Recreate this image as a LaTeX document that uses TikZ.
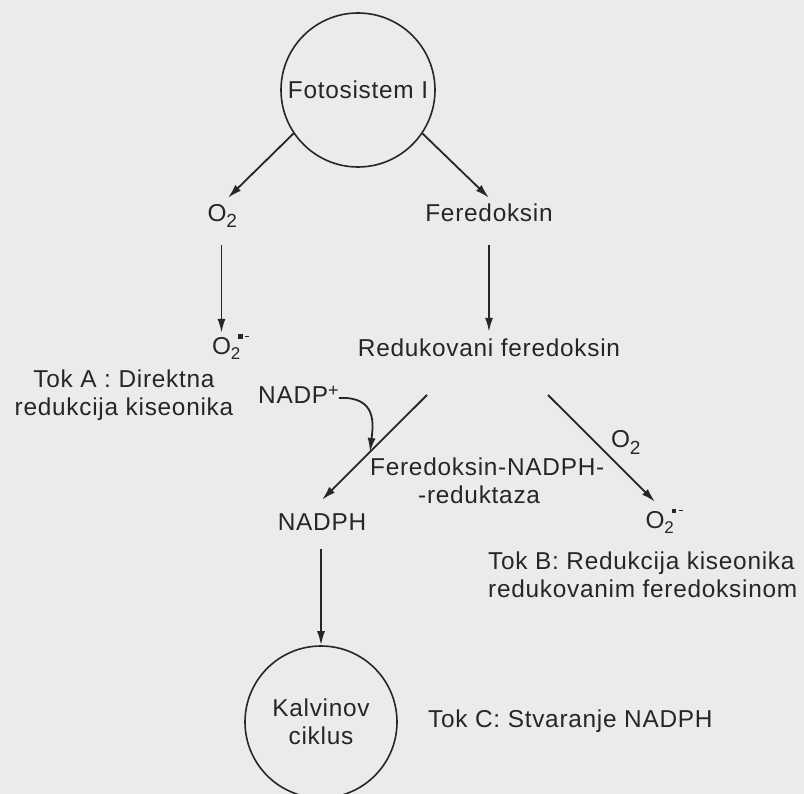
\documentclass[tikz,border=0pt]{standalone}
\usepackage{fontspec}
\setmainfont[LetterSpace=3]{Liberation Sans}
\usetikzlibrary{arrows.meta}
\definecolor{bg}{RGB}{233,236,234}
\definecolor{ink}{RGB}{38,38,38}
\newcommand\Otwo{O\rlap{\raisebox{-6pt}{\fontsize{19}{19}\selectfont 2}}}
\newcommand\Osup{O\rlap{\raisebox{-5pt}{\fontsize{17}{17}\selectfont 2}\hspace{-2pt}\rule[16pt]{4.5pt}{4.5pt}\hspace{2.5pt}\rule[17.5pt]{4pt}{1.6pt}}}
\begin{document}
\begin{tikzpicture}[x=1pt,y=-1pt,
  arr/.style={draw=ink, line width=1.8pt, -{Latex[length=14pt,width=8pt]}},
  txt/.style={text=ink, inner sep=0pt, font=\fontsize{24.4}{28}\selectfont},
  lbl/.style={txt, text height=17pt, text depth=5pt},
  circ/.style={circle, draw=ink, line width=1.6pt, inner sep=0pt, text=ink, align=center, font=\fontsize{24.4}{28}\selectfont}]
\fill[bg] (0,0) rectangle (804,794);
\useasboundingbox (0,0) rectangle (804,794);

% nodes
\node[circ, minimum size=154pt] (fs) at (358,90) {Fotosistem I};
\node[lbl, anchor=base] (o2a) at (217,222) {\Otwo};
\node[lbl, anchor=base] (fer) at (489,222) {Feredoksin};
\node[lbl, anchor=base] (sup1) at (221.5,355) {\Osup};
\node[lbl, anchor=base] (red) at (489,357) {Redukovani feredoksin};
\node[txt, align=center, anchor=north] (toka) at (124,369.5) {Tok A : Direktna\\redukcija kiseonika};
\node[lbl, anchor=base west] (nadp) at (258,404) {NADP\raisebox{7pt}{\fontsize{18}{18}\selectfont +}};
\node[txt, align=left, anchor=north west] (enz) at (370,457.5) {Feredoksin-NADPH-\\\hspace{48pt}-reduktaza};
\node[lbl, anchor=base] (o2b) at (620.5,448) {\Otwo};
\node[lbl, anchor=base] (nadph) at (322,530) {NADPH};
\node[lbl, anchor=base] (sup2) at (655,529) {\Osup};
\node[txt, align=left, anchor=north west] (tokb) at (488,551.5) {Tok B: Redukcija kiseonika\\redukovanim feredoksinom};
\node[circ, minimum size=152pt] (kc) at (321,722) {Kalvinov\\ciklus};
\node[lbl, anchor=base west] (tokc) at (428,727) {Tok C: Stvaranje NADPH};

\coordinate (lstart) at (427,395);
\coordinate (rstart) at (548,395);
\coordinate (meet) at (370,452);

% connectors
\draw[arr] (fs.214) -- ([xshift=11pt,yshift=7pt]o2a.north);
\draw[arr] (fs.326) -- ([yshift=7pt]fer.north);
\draw[arr] ([yshift=-18pt]o2a.south -| sup1.north) -- ([yshift=5pt]sup1.north);
\draw[arr] ([yshift=-18pt]fer.south) -- ([yshift=8pt]red.north);
\draw[arr] (lstart) -- ([yshift=13pt]nadph.north);
\draw[arr] (rstart) -- ([yshift=10pt]sup2.north);
\draw[arr] (nadp.east) .. controls (378,396) and (373,426) .. (meet);
\draw[arr] ([yshift=-14pt]nadph.south -| kc.north) -- (kc.north);
\end{tikzpicture}
\end{document}
